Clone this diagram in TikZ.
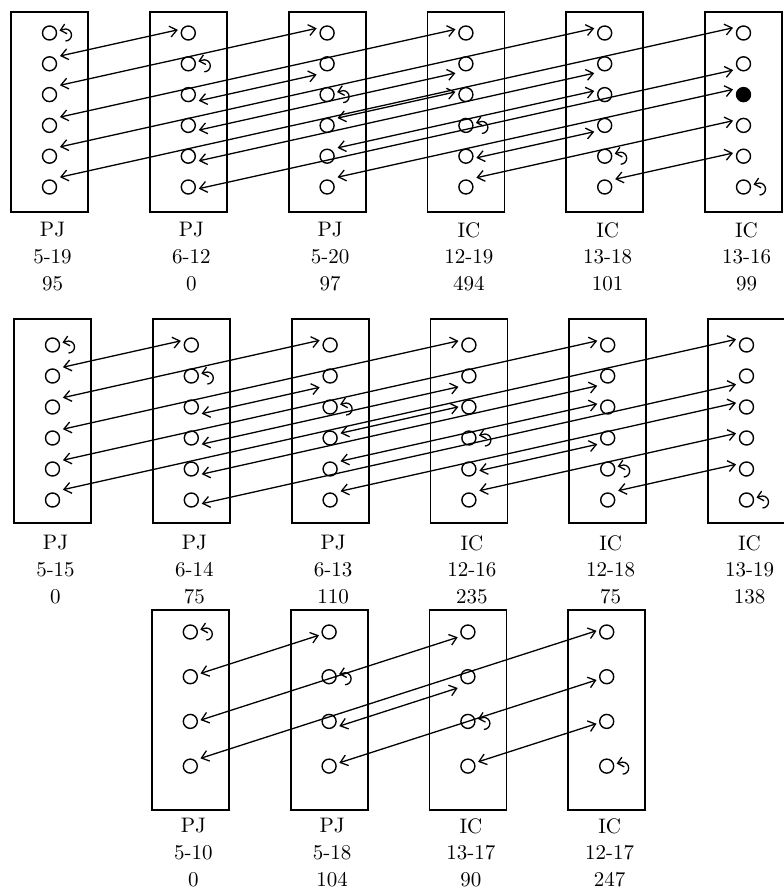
\documentclass[tikz,border=0pt]{standalone}
\usepackage{tikz}
\usetikzlibrary{arrows.meta,calc,positioning}
\newcommand{\backloop}[1]{\draw[loopback] ($(#1)+(16,-8)$) arc[start angle=-90,end angle=90,radius=3pt] -- ++(-6,-1.5);}
\newcommand{\wirerow}[2]{%
  \foreach \i/\j/\dy in {#2}
    \draw[link,transform canvas={yshift=\dy pt}] (b#1\i-\j) -- (b#1\j-\i);}

\begin{document}
\begin{tikzpicture}[x=0.5pt,y=0.5pt,
    plug/.style={rectangle,draw,line width=0.9pt,minimum width=38.5pt,minimum height=100pt,inner sep=0pt},
    pin/.style={circle,draw,line width=0.7pt,minimum size=7pt,inner sep=0pt},
    tag/.style={align=center,inner sep=0pt,xshift=1.5pt,font=\fontsize{10.5}{13.4}\selectfont},
    link/.style={{Straight Barb[length=3.5pt,width=5.5pt]}-{Straight Barb[length=3.5pt,width=5.5pt]},line width=0.65pt,shorten <=1.5pt,shorten >=1.5pt},
    loopback/.style={-{Straight Barb[length=2.8pt,width=5pt]},line width=0.65pt}]
  \useasboundingbox (0,0) rectangle (783,-889);
  \foreach \k/\kind/\rng/\cnt in {1/PJ/5-19/95,2/PJ/6-12/0,3/PJ/5-20/97,4/IC/12-19/494,5/IC/13-18/101,6/IC/13-16/99}{
    \node[plug] (b1\k) at ({49.5+138.8*(\k-1)},-112) {};
    \node[tag,below=4.5pt of b1\k] (t1\k) {\kind\\\rng\\\cnt};
    \foreach \i in {1,...,6}
      \node[pin] (b1\k-\i) at ({49.5+138.8*(\k-1)},{-33-30.8*(\i-1)}) {};
    \backloop{b1\k-\k}
  }
  \foreach \k/\kind/\rng/\cnt in {1/PJ/5-15/0,2/PJ/6-14/75,3/PJ/6-13/110,4/IC/12-16/235,5/IC/12-18/75,6/IC/13-19/138}{
    \node[plug,minimum height=102pt] (b2\k) at ({52.5+138.8*(\k-1)},-421) {};
    \node[tag,below=5.5pt of b2\k] (t2\k) {\kind\\\rng\\\cnt};
    \foreach \i in {1,...,6}
      \node[pin] (b2\k-\i) at ({52.5+138.8*(\k-1)},{-345-31*(\i-1)}) {};
    \backloop{b2\k-\k}
  }
  \foreach \k/\kind/\rng/\cnt in {1/PJ/5-10/0,2/PJ/5-18/104,3/IC/13-17/90,4/IC/12-17/247}{
    \node[plug] (b3\k) at ({190.3+138.8*(\k-1)},-710) {};
    \node[tag,below=3.5pt of b3\k] (t3\k) {\kind\\\rng\\\cnt};
    \foreach \i in {1,...,4}
      \node[pin] (b3\k-\i) at ({190.3+138.8*(\k-1)},{-632-44.7*(\i-1)}) {};
    \backloop{b3\k-\k}
  }
  \fill (b16-3) circle[radius=3.5pt];
  \wirerow{1}{1/2/2.75,1/3/3.5,1/4/3,1/5/3.5,1/6/3.75,2/3/-4.25,2/4/-3.5,2/5/-3.5,2/6/-2,
    3/4/2.5,3/5/3,3/6/3.75,4/5/-2,4/6/3.5,5/6/2.75}
  \wirerow{2}{1/2/3.25,1/3/3.5,1/4/3.25,1/5/3.25,1/6/4,2/3/-4.5,2/4/-4.25,2/5/-3.75,2/6/-3,
    3/4/1.25,3/5/2.75,3/6/3.25,4/5/-2,4/6/3.5,5/6/3.5}
  \wirerow{3}{1/2/0,1/3/-1,1/4/2.25,2/3/-4,2/4/0,3/4/0.5}
\end{tikzpicture}
\end{document}
